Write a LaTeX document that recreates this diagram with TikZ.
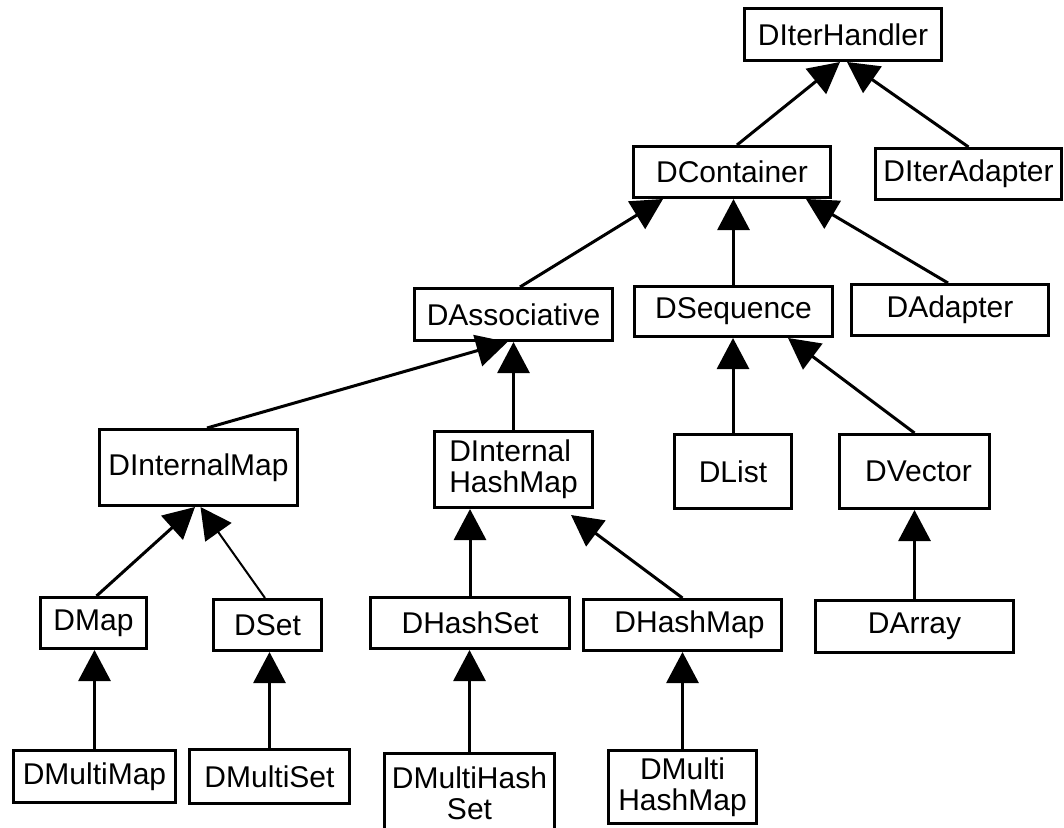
\documentclass[tikz,border=0pt]{standalone}
\usepackage{fontspec}
\setmainfont{Liberation Sans}
\usetikzlibrary{arrows.meta}
\tikzset{
  cls/.style={draw=black, line width=3pt, fill=white, inner sep=0pt, align=center,
    font=\fontsize{30}{31}\selectfont},
  inh/.style={draw=black, line width=3pt, -{Triangle[length=31pt,width=32pt]}},
  inhthin/.style={inh, line width=2pt}
}
\begin{document}
\begin{tikzpicture}[x=1pt,y=-1pt]
\useasboundingbox (0,0) rectangle (1064,827);
% nodes
\node[cls, minimum width=197pt, minimum height=52pt] (diterhandler) at (843,34.5) {DIterHandler};
\node[cls, minimum width=197pt, minimum height=51pt] (dcontainer) at (732,172) {DContainer};
\node[cls, minimum width=186pt, minimum height=51pt] (diteradapter) at (968.5,174) {DIterAdapter};
\node[cls, minimum width=198pt, minimum height=52pt] (dassociative) at (513.5,314.5) {DAssociative};
\node[cls, minimum width=198pt, minimum height=50pt] (dsequence) at (733.5,311.5) {DSequence};
\node[cls, minimum width=197pt, minimum height=51pt] (dadapter) at (950,310) {DAdapter};
\node[cls, minimum width=198pt, minimum height=76pt] (dinternalmap) at (198.5,467.5) {DInternalMap};
\node[cls, minimum width=158pt, minimum height=76pt, align=left] (dinternalhashmap) at (513.5,469.5) {DInternal\\HashMap};
\node[cls, minimum width=117pt, minimum height=74pt] (dlist) at (733,471.5) {DList};
\node[cls, minimum width=150pt, minimum height=74pt] (dvector) at (914.5,471.5) {\hspace*{8pt}DVector};
\node[cls, minimum width=106pt, minimum height=51pt] (dmap) at (93.5,623) {DMap};
\node[cls, minimum width=108pt, minimum height=51pt] (dset) at (267.5,625) {DSet};
\node[cls, minimum width=199pt, minimum height=51pt] (dhashset) at (470,623) {DHashSet};
\node[cls, minimum width=198pt, minimum height=51pt] (dhashmap) at (682.5,625) {\hspace*{14pt}DHashMap};
\node[cls, minimum width=198pt, minimum height=52pt] (darray) at (914.5,626.5) {DArray};
\node[cls, minimum width=162pt, minimum height=52pt] (dmultimap) at (94.5,776.5) {DMultiMap};
\node[cls, minimum width=160pt, minimum height=54pt] (dmultiset) at (269.5,776.5) {DMultiSet};
\node[cls, minimum width=170pt, minimum height=80pt] (dmultihashset) at (469.5,793) {DMultiHash\\Set};
\node[cls, minimum width=148pt, minimum height=73pt] (dmultihashmap) at (682.5,787) {DMulti\\HashMap};
% connectors
\draw[inh] ([xshift=5pt]dcontainer.north) -- ([xshift=-3pt]diterhandler.south);
\draw[inh] (diteradapter.north) -- ([xshift=4pt]diterhandler.south);
\draw[inh] ([xshift=6.5pt]dassociative.north) -- ([xshift=-69pt]dcontainer.south);
\draw[inh] (dsequence.north) -- (dsequence.north |- dcontainer.south);
\draw[inh] ([xshift=-2pt]dadapter.north) -- ([xshift=74pt]dcontainer.south);
\draw[inh] ([xshift=8.5pt]dinternalmap.north) -- ([xshift=-6pt]dassociative.south);
\draw[inh] (dinternalhashmap.north) -- (dinternalhashmap.north |- dassociative.south);
\draw[inh] (dlist.north) -- (dlist.north |- dsequence.south);
\draw[inh] (dvector.north) -- ([xshift=54.5pt]dsequence.south);
\draw[inh] ([xshift=3pt]dmap.north) -- ([xshift=-3.5pt]dinternalmap.south);
\draw[inhthin] ([xshift=-2.5pt]dset.north) -- ([xshift=2pt]dinternalmap.south);
\draw[inh] (dhashset.north) -- (dhashset.north |- dinternalhashmap.south);
\draw[inh] (dhashmap.north) -- ([xshift=57.5pt,yshift=-6pt]dinternalhashmap.south);
\draw[inh] (darray.north) -- (darray.north |- dvector.south);
\draw[inh] (dmultimap.north) -- (dmultimap.north |- dmap.south);
\draw[inh] (dmultiset.north) -- (dmultiset.north |- dset.south);
\draw[inh] (dmultihashset.north) -- (dmultihashset.north |- dhashset.south);
\draw[inh] (dmultihashmap.north) -- (dmultihashmap.north |- dhashmap.south);
\end{tikzpicture}
\end{document}
